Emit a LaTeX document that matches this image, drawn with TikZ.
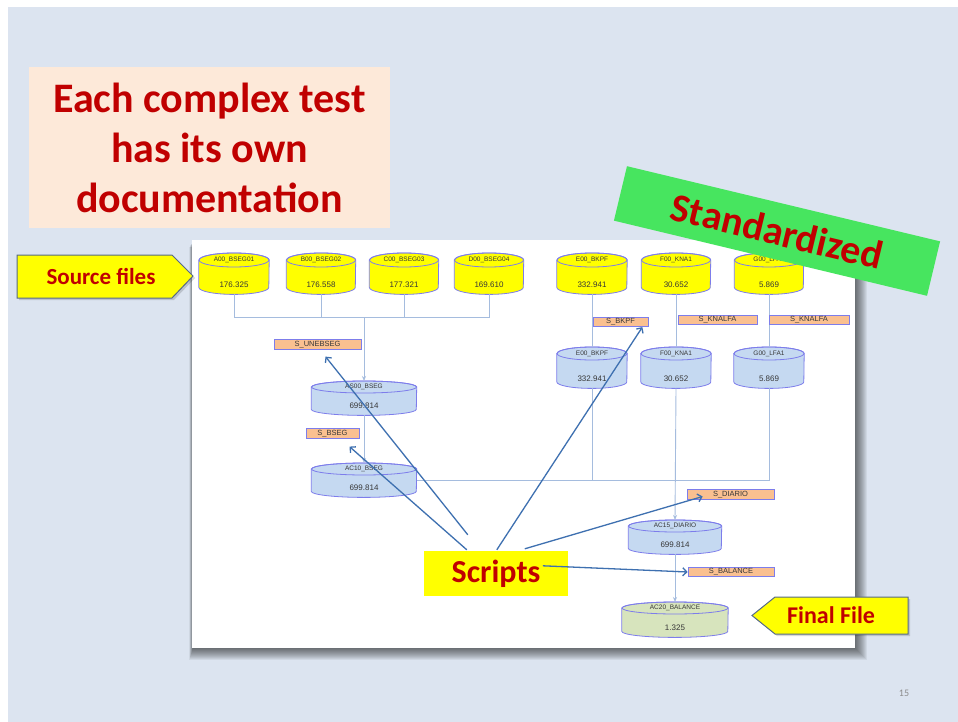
\documentclass[tikz,border=0pt]{standalone}
\usepackage{fontspec}
\setmainfont{Carlito}
\newfontfamily\lblfont{Liberation Sans}
\usetikzlibrary{arrows.meta,calc}

\definecolor{slidebg}{RGB}{220,228,240}
\definecolor{titlered}{RGB}{192,0,0}
\definecolor{peach}{RGB}{253,233,217}
\definecolor{bannergreen}{RGB}{71,229,95}
\definecolor{cylyellow}{RGB}{255,255,0}
\definecolor{cylblue}{RGB}{197,217,241}
\definecolor{cylgreen}{RGB}{215,228,189}
\definecolor{cyledge}{RGB}{125,125,235}
\definecolor{boxfill}{RGB}{250,192,144}
\definecolor{linkblue}{RGB}{165,188,222}
\definecolor{scriptblue}{RGB}{62,112,176}
\definecolor{calloutedge}{RGB}{85,105,135}
\definecolor{lbltext}{RGB}{55,55,55}

% database cylinder: name, centre x, top y, width, height, fill, title, value, end radius
\newcommand\dbcyl[9]{%
  \node[minimum width=#4pt, minimum height=#5pt, inner sep=0pt, anchor=north] (#1) at (#2,#3) {};
  \filldraw[cylbody, fill=#6]
    ([yshift=-#9pt]#1.north west) -- ([yshift=#9pt]#1.south west)
    arc[start angle=180, end angle=360, x radius=#4*0.5pt, y radius=#9pt]
    -- ([yshift=-#9pt]#1.north east)
    arc[start angle=0, end angle=180, x radius=#4*0.5pt, y radius=#9pt] -- cycle;
  \draw[cylbody] ([yshift=-#9pt]#1.north) ellipse[x radius=#4*0.5pt, y radius=#9pt];
  \node[cyltitle] at ([yshift=-#9pt]#1.north) {#7};
  \node[cylvalue] at ([yshift=10pt]#1.south) {#8};
}

\begin{document}
\begin{tikzpicture}[x=1pt,y=-1pt,
  cylbody/.style={draw=cyledge, line width=0.8pt},
  cyltitle/.style={inner sep=0pt, text=lbltext, font=\lblfont\fontsize{6.5}{7}\selectfont},
  cylvalue/.style={inner sep=0pt, text=lbltext, font=\lblfont\fontsize{8}{9}\selectfont},
  sbox/.style={draw=cyledge, fill=boxfill, line width=0.7pt, inner sep=0pt,
    minimum height=9.5pt, text=lbltext, font=\lblfont\fontsize{7.5}{8}\selectfont},
  link/.style={draw=linkblue, line width=0.9pt},
  linkarrow/.style={link, -{Stealth[length=5pt,width=4pt]}},
  scriptarrow/.style={draw=scriptblue, line width=1.3pt, -{Straight Barb[length=4pt,width=8pt]}},
  callout/.style={draw=calloutedge, line width=1pt, fill=cylyellow},
  bigred/.style={text=titlered, font=\bfseries\fontsize{42}{50}\selectfont},
]
\useasboundingbox (0,0) rectangle (958,722);
\fill[white] (0,0) rectangle (958,722);
\fill[slidebg] (8,7) rectangle (958,722);

% explanatory note
\node[fill=peach, minimum width=361pt, minimum height=161pt, inner sep=0pt,
      align=center, bigred] (docbox) at (209.5,147.5)
  {Each complex test\\has its own\\documentation};

% white panel with a soft shadow
\foreach \k in {1,...,12}
  \fill[black, opacity=0.055] (192-0.3*\k+1,240+0.6*\k) rectangle (855+\k,648+\k);
\node[fill=white, minimum width=663pt, minimum height=408pt, inner sep=0pt,
      anchor=north west] (panel) at (192,240) {};

% source tables
\dbcyl{a00}{234}{253}{70}{41}{cylyellow}{A00\_BSEG01}{176.325}{7}
\dbcyl{b00}{321}{253}{69}{41}{cylyellow}{B00\_BSEG02}{176.558}{7}
\dbcyl{c00}{404}{253}{69}{41}{cylyellow}{C00\_BSEG03}{177.321}{7}
\dbcyl{d00}{489}{253}{69}{41}{cylyellow}{D00\_BSEG04}{169.610}{7}
\dbcyl{e00}{592}{253}{70}{41}{cylyellow}{E00\_BKPF}{332.941}{7}
\dbcyl{f00}{676}{253}{69}{41}{cylyellow}{F00\_KNA1}{30.652}{7}
\dbcyl{g00}{769}{253}{69}{41}{cylyellow}{G00\_LFA1}{5.869}{7}

% intermediate tables
\dbcyl{e00l}{592}{347}{70}{41}{cylblue}{E00\_BKPF}{332.941}{6.5}
\dbcyl{f00l}{676}{347}{70}{41}{cylblue}{F00\_KNA1}{30.652}{6.5}
\dbcyl{g00l}{769}{347}{70}{41}{cylblue}{G00\_LFA1}{5.869}{6.5}
\dbcyl{as00}{364}{381}{105}{34}{cylblue}{AS00\_BSEG}{699.814}{6}
\dbcyl{ac10}{364}{463}{105}{34}{cylblue}{AC10\_BSEG}{699.814}{6}
\dbcyl{ac15}{675}{520}{93}{34}{cylblue}{AC15\_DIARIO}{699.814}{6}
\dbcyl{ac20}{675}{602}{106}{35}{cylgreen}{AC20\_BALANCE}{1.325}{6}

% flow between tables
\coordinate (bus) at (364,317);
\draw[link] (a00.south) |- (bus);
\draw[link] (d00.south) |- (bus);
\draw[link] (b00.south) -- (b00.south |- bus);
\draw[link] (c00.south) -- (c00.south |- bus);
\draw[linkarrow] (bus) -- (as00.north);
\draw[linkarrow] (as00.south) -- (ac10.north);
\draw[link] (e00.south) -- (e00l.north);
\draw[link] (f00.south) -- (f00l.north);
\draw[link] (g00.south) -- (g00l.north);
\draw[link] (ac10.east) -| (g00l.south);
\draw[link] (e00l.south) -- (e00l.south |- ac10.east);
\draw[linkarrow] (f00l.south) -- (ac15.north);
\draw[linkarrow] (ac15.south) -- (ac20.north);

% script boxes
\node[sbox, minimum width=87pt] (sune) at (317.5,344.5) {S\_UNEBSEG};
\node[sbox, minimum width=53pt] (sbseg) at (332.5,433.5) {S\_BSEG};
\node[sbox, minimum width=55pt] (sbkpf) at (620.5,322) {S\_BKPF};
\node[sbox, minimum width=79pt] (sknalfaa) at (717.5,320) {S\_KNALFA};
\node[sbox, minimum width=80pt] (sknalfab) at (809,320) {S\_KNALFA};
\node[sbox, minimum width=87pt] (sdiario) at (730.5,494.5) {S\_DIARIO};
\node[sbox, minimum width=86pt] (sbalance) at (731,572) {S\_BALANCE};

% scripts label and its pointers
\node[fill=cylyellow, minimum width=144pt, minimum height=45pt, inner sep=0pt,
      text=titlered, font=\bfseries\fontsize{32}{36}\selectfont] (scripts) at (496,573.5) {Scripts};
\draw[scriptarrow] ($(scripts.north west)+(44,-16)$) -- ($(sune.south)+(8,7)$);
\draw[scriptarrow] ($(scripts.north west)+(43,-1)$) -- ($(sbseg.south)+(17,8)$);
\draw[scriptarrow] ($(scripts.north west)+(73,-1)$) -- ($(sbkpf.south east)+(-6,0)$);
\draw[scriptarrow] ($(scripts.north west)+(101,-2)$) -- ($(sdiario.west)+(16,2)$);
\draw[scriptarrow] ($(scripts.north west)+(119,15)$) -- (sbalance.west);

% callouts
\fill[black, opacity=0.15] (19,257) -- (174,257) -- (195,278) -- (174,300) -- (19,300) -- cycle;
\draw[callout] (17,255) -- (172,255) -- (193,276) -- (172,298) -- (17,298) -- cycle;
\node[text=titlered, font=\bfseries\fontsize{23}{26}\selectfont] (srcfiles) at (101,276) {Source files};
\fill[black, opacity=0.15] (777,599) -- (910,599) -- (910,636) -- (777,636) -- (754,617.5) -- cycle;
\draw[callout] (775,597) -- (908,597) -- (908,634) -- (775,634) -- (752,615.5) -- cycle;
\node[text=titlered, font=\bfseries\fontsize{24}{26}\selectfont] (finalfile) at (831,615) {Final File};

% banner
\node[fill=bannergreen, rotate=-13.5, minimum width=322pt, minimum height=56pt,
      inner sep=0pt, text=titlered, font=\bfseries\fontsize{40}{44}\selectfont] (std) at (777,231) {Standardized};

% page number
\node[text=black!45, font=\fontsize{10}{12}\selectfont] (pgno) at (904,693) {15};
\end{tikzpicture}
\end{document}
